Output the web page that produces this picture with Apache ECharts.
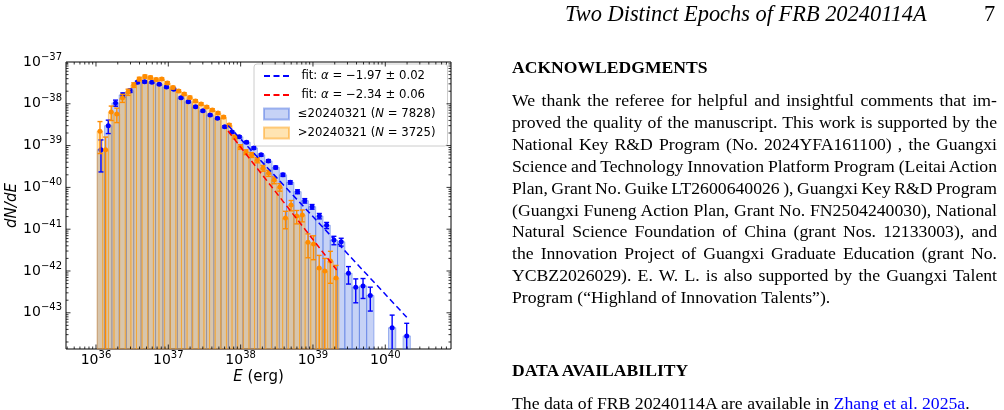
<!DOCTYPE html>
<html>
<head>
<meta charset="utf-8">
<script src="https://cdn.jsdelivr.net/npm/echarts@6/dist/echarts.min.js"></script>
<style>
html, body { margin: 0; padding: 0; background: #fff; width: 1004px; height: 410px; overflow: hidden; }
#chart { position: absolute; left: 0; top: 0; width: 1004px; height: 410px; }
.t { position: absolute; font-family: "Liberation Serif", "Times New Roman", serif; color: #000; white-space: nowrap; }
.body { font-size: 17.7px; line-height: 21.9px; width: 485px; white-space: normal; }
.j { text-align: justify; text-align-last: justify; word-spacing: -1.5px; }
.link { color: #0000ff; }
</style>
</head>
<body>
<div id="chart"></div>

<div class="t" style="left:565px;top:1px;font-size:22.4px;font-style:italic;line-height:26px">Two Distinct Epochs of FRB 20240114A</div>
<div class="t" style="left:984px;top:1px;font-size:22.4px;line-height:26px">7</div>

<div class="t" style="left:512px;top:56px;font-size:17.6px;font-weight:bold;line-height:22px">ACKNOWLEDGMENTS</div>
<div class="t body" style="left:512px;top:90px">
  <div class="j">We thank the referee for helpful and insightful comments that im-</div>
  <div class="j">proved the quality of the manuscript. This work is supported by the</div>
  <div class="j">National Key R&amp;D Program (No. 2024YFA161100) , the Guangxi</div>
  <div class="j">Science and Technology Innovation Platform Program (Leitai Action</div>
  <div class="j">Plan, Grant No. Guike LT2600640026 ), Guangxi Key R&amp;D Program</div>
  <div class="j">(Guangxi Funeng Action Plan, Grant No. FN2504240030), National</div>
  <div class="j">Natural Science Foundation of China (grant Nos. 12133003), and</div>
  <div class="j">the Innovation Project of Guangxi Graduate Education (grant No.</div>
  <div class="j">YCBZ2026029). E. W. L. is also supported by the Guangxi Talent</div>
  <div>Program (“Highland of Innovation Talents”).</div>
</div>

<div class="t" style="left:512px;top:359px;font-size:17.6px;font-weight:bold;line-height:22px">DATA AVAILABILITY</div>
<div class="t" style="left:512px;top:392px;font-size:17.7px;line-height:22px">The data of FRB 20240114A are available in <span class="link">Zhang et al. 2025a</span>.</div>

<script>
// axis limits (true units)
const xMin = 3.85e35, xMax = 8.1e40
const yMinTrue = 1.36e-44, yMaxTrue = 1.0e-37
// echarts rounds tiny numbers to 0, so y is plotted in units of 1e-44
const yUnitExp = -44
const yUnit = Math.pow(10, yUnitExp)
const yMin = yMinTrue / yUnit, yMax = yMaxTrue / yUnit

// histogram ranges (43 log bins each) and sample sizes
const earlyRange = [1.044e36, 2.22e40]
const lateRange = [1.038e36, 2.28e39]
const earlyCount = 7828
const lateCount = 3725

// dN/dE per bin, <=20240321
const earlyDensity = [8.0e-40, 3.0e-39, 1.05e-38, 1.63e-38, 2.06e-38, 3.27e-38, 3.38e-38, 3.27e-38, 2.93e-38, 2.52e-38,
  2.22e-38, 1.40e-38, 1.12e-38, 8.5e-39, 6.8e-39, 5.4e-39, 4.5e-39, 2.83e-39, 2.11e-39, 1.63e-39,
  1.20e-39, 8.8e-40, 6.0e-40, 4.3e-40, 3.0e-40, 2.0e-40, 1.32e-40, 7.9e-41, 4.8e-41, 3.45e-41,
  2.07e-41, 1.24e-41, 5.5e-42, 5.0e-42, 8.8e-43, 4.1e-43, 4.4e-43, 2.6e-43, null, null,
  4.4e-44, null, 2.8e-44]
// dN/dE per bin, >20240321
const lateDensity = [2.2e-39, 8.0e-40, 6.4e-39, 5.7e-39, 1.38e-38, 1.91e-38, 2.82e-38, 3.92e-38, 4.5e-38, 4.26e-38,
  3.81e-38, 3.92e-38, 3.15e-38, 2.45e-38, 2.02e-38, 1.71e-38, 1.42e-38, 1.17e-38, 9.9e-39, 8.4e-39,
  7.1e-39, 6.0e-39, 4.8e-39, 3.1e-39, 1.61e-39, 9.3e-40, 7.0e-40, 6.0e-40, 4.5e-40, 2.9e-40,
  2.2e-40, 1.5e-40, 1.02e-40, 1.85e-41, 3.8e-41, 2.07e-41, 2.19e-41, 4.9e-42, 4.4e-42, 1.18e-42,
  1.0e-42, 1.73e-42, 6.8e-43]

// power-law fits, end points [E, dN/dE]
const fitEarly = [[6.70e37, 3.03e-39], [1.98e40, 7.8e-44]]
const fitLate = [[6.70e37, 2.23e-39], [2.13e39, 1.06e-42]]

const legendNames = ['fitEarly', 'fitLate', 'early', 'late']
const legendLabels = ['  fit: {i|α} = −1.97 ± 0.02', '  fit: {i|α} = −2.34 ± 0.06',
  ' ≤20240321 ({i|N} = 7828)', ' >20240321 ({i|N} = 3725)']

function binEdges(range, n) {
  const a = Math.log10(range[0]), b = Math.log10(range[1])
  const e = []
  for (let i = 0; i <= n; i++) e.push(Math.pow(10, a + (b - a) * i / n))
  return e
}

function build(range, dens, total) {
  const edges = binEdges(range, dens.length)
  const bars = [], pts = [], errs = []
  dens.forEach((v, i) => {
    if (v == null) return
    const lo = edges[i], hi = edges[i + 1], c = Math.sqrt(lo * hi)
    const n = Math.max(1, Math.round(v * total * (hi - lo)))
    const s = v / Math.sqrt(n)
    bars.push([lo, hi, v / yUnit])
    pts.push([c, v / yUnit])
    errs.push([c, v / yUnit, Math.max((v - s) / yUnit, yMin), (v + s) / yUnit])
  })
  return { bars, pts, errs }
}
const early = build(earlyRange, earlyDensity, earlyCount)
const late = build(lateRange, lateDensity, lateCount)

function barItem(fill, stroke) {
  return function (params, api) {
    const p0 = api.coord([api.value(0), api.value(2)])
    const p1 = api.coord([api.value(1), yMin])
    return {
      type: 'rect',
      shape: { x: p0[0], y: p0[1], width: p1[0] - p0[0], height: p1[1] - p0[1] },
      style: { fill: fill, stroke: stroke, lineWidth: 1 }
    }
  }
}

function errItem(color) {
  return function (params, api) {
    const c = api.value(0), lo = api.value(2), hi = api.value(3)
    const top = api.coord([c, hi]), bot = api.coord([c, lo])
    const x = top[0], cap = 2.5
    const st = { stroke: color, lineWidth: 1.4 }
    const kids = [
      { type: 'line', shape: { x1: x, y1: top[1], x2: x, y2: bot[1] }, style: st },
      { type: 'line', shape: { x1: x - cap, y1: top[1], x2: x + cap, y2: top[1] }, style: st }
    ]
    if (lo > yMin) kids.push({ type: 'line', shape: { x1: x - cap, y1: bot[1], x2: x + cap, y2: bot[1] }, style: st })
    return { type: 'group', children: kids }
  }
}

// tick marks (major = 10^n, minor = m*10^n), drawn inward on all four sides
const xTicks = [], yTicks = []
for (let n = 35; n <= 40; n++) for (let m = 1; m <= 9; m++) xTicks.push([m * Math.pow(10, n), yMax, m === 1 ? 1 : 0])
for (let n = 0; n <= 7; n++) for (let m = 1; m <= 9; m++) yTicks.push([xMax, m * Math.pow(10, n), m === 1 ? 1 : 0])

function tickItem(vertical) {
  return function (params, api) {
    const cs = params.coordSys
    const len = api.value(2) ? 4.5 : 2.5
    const st = { stroke: '#000', lineWidth: 0.8 }
    if (vertical) {
      const x = api.coord([api.value(0), yMax])[0]
      if (x < cs.x + 0.5 || x > cs.x + cs.width - 0.5) return
      const yb = cs.y + cs.height, yt = cs.y
      return { type: 'group', children: [
        { type: 'line', shape: { x1: x, y1: yb, x2: x, y2: yb - len }, style: st },
        { type: 'line', shape: { x1: x, y1: yt, x2: x, y2: yt + len }, style: st }
      ] }
    }
    const y = api.coord([xMax, api.value(1)])[1]
    if (y < cs.y + 0.5 || y > cs.y + cs.height - 0.5) return
    const xl = cs.x, xr = cs.x + cs.width
    return { type: 'group', children: [
      { type: 'line', shape: { x1: xl, y1: y, x2: xl + len, y2: y }, style: st },
      { type: 'line', shape: { x1: xr, y1: y, x2: xr - len, y2: y }, style: st }
    ] }
  }
}

function powLabel(offset) {
  return function (v) {
    const e = Math.log10(v), r = Math.round(e)
    if (Math.abs(e - r) > 1e-6) return ''
    return '10{sup|' + String(r + offset).replace('-', '−') + '}'
  }
}

const font = 'DejaVu Sans'
const supStyle = { fontSize: 10, fontFamily: font, color: '#000', verticalAlign: 'top', lineHeight: 10 }
const dash = 'path://M0,0h6v2h-6z M9.5,0h6v2h-6z M19,0h6v2h-6z'
const scaleFit = f => f.map(p => [p[0], p[1] / yUnit])

const chart = echarts.init(document.getElementById('chart'), null, { renderer: 'canvas' })
chart.setOption({
  animation: false,
  backgroundColor: 'transparent',
  grid: { left: 66, top: 62, right: 553, bottom: 61, show: true, borderColor: '#000', borderWidth: 1, backgroundColor: 'transparent' },
  legend: {
    orient: 'vertical', left: 254, top: 64,
    padding: [5, 12, 6, 9],
    backgroundColor: 'rgba(255,255,255,0.8)', borderColor: '#cccccc', borderWidth: 1, borderRadius: 3,
    itemWidth: 25, itemHeight: 11, itemGap: 5, selectedMode: false,
    data: legendNames.map((n, i) => ({ name: n, icon: i < 2 ? dash : 'rect' })),
    formatter: n => legendLabels[legendNames.indexOf(n)],
    textStyle: {
      fontFamily: font, fontSize: 11.7, color: '#000', lineHeight: 14,
      rich: { i: { fontFamily: font, fontSize: 11.7, fontStyle: 'italic', color: '#000' } }
    }
  },
  xAxis: {
    type: 'log', min: xMin, max: xMax, logBase: 10,
    axisLine: { show: false }, axisTick: { show: false }, splitLine: { show: false },
    axisLabel: { formatter: powLabel(0), fontFamily: font, fontSize: 14, color: '#000', lineHeight: 20, margin: 1, showMinLabel: false, showMaxLabel: false, rich: { sup: supStyle } },
    name: '{i|E} (erg)', nameLocation: 'middle', nameGap: 21, nameMoveOverlap: false,
    nameTextStyle: { fontFamily: font, fontSize: 15, color: '#000', rich: { i: { fontFamily: font, fontSize: 15, fontStyle: 'italic', color: '#000' } } }
  },
  yAxis: {
    type: 'log', min: yMin, max: yMax, logBase: 10,
    axisLine: { show: false }, axisTick: { show: false }, splitLine: { show: false },
    axisLabel: { formatter: powLabel(yUnitExp), fontFamily: font, fontSize: 14, color: '#000', lineHeight: 20, margin: 4, showMinLabel: false, rich: { sup: supStyle } },
    name: 'dN/dE', nameLocation: 'middle', nameGap: 28, nameRotate: 90,
    nameTextStyle: { fontFamily: font, fontSize: 15, fontStyle: 'italic', color: '#000' }
  },
  series: [
    {
      type: 'custom', name: 'early', z: 1, data: early.bars, encode: { x: [0, 1], y: 2 },
      itemStyle: { color: 'rgba(65,105,225,0.3)', borderColor: 'rgba(65,105,225,0.45)', borderWidth: 1 },
      renderItem: barItem('rgba(65,105,225,0.3)', 'rgba(65,105,225,0.45)')
    },
    {
      type: 'custom', name: 'late', z: 2, data: late.bars, encode: { x: [0, 1], y: 2 },
      itemStyle: { color: 'rgba(255,165,0,0.3)', borderColor: 'rgba(255,150,0,0.45)', borderWidth: 1 },
      renderItem: barItem('rgba(255,165,0,0.3)', 'rgba(255,150,0,0.45)')
    },
    {
      type: 'custom', name: 'earlyErr', z: 3, data: early.errs, encode: { x: 0, y: [1, 2, 3] },
      renderItem: errItem('#0000ff')
    },
    {
      type: 'scatter', name: 'earlyPts', z: 4, data: early.pts, symbol: 'circle', symbolSize: 5,
      itemStyle: { color: '#0000ff', opacity: 1 }
    },
    {
      type: 'custom', name: 'lateErr', z: 5, data: late.errs, encode: { x: 0, y: [1, 2, 3] },
      renderItem: errItem('#ff8c00')
    },
    {
      type: 'scatter', name: 'latePts', z: 6, data: late.pts, symbol: 'circle', symbolSize: 5,
      itemStyle: { color: '#ff8c00', opacity: 1 }
    },
    {
      type: 'line', name: 'fitEarly', z: 7, data: scaleFit(fitEarly), symbol: 'none', color: '#0000ff',
      lineStyle: { color: '#0000ff', width: 1.5, type: [6, 3.5] }
    },
    {
      type: 'line', name: 'fitLate', z: 8, data: scaleFit(fitLate), symbol: 'none', color: '#ff0000',
      lineStyle: { color: '#ff0000', width: 1.5, type: [6, 3.5] }
    },
    { type: 'custom', name: 'xticks', z: 9, data: xTicks, encode: { x: 0, y: 1 }, renderItem: tickItem(true), silent: true },
    { type: 'custom', name: 'yticks', z: 9, data: yTicks, encode: { x: 0, y: 1 }, renderItem: tickItem(false), silent: true }
  ]
})
</script>
</body>
</html>
